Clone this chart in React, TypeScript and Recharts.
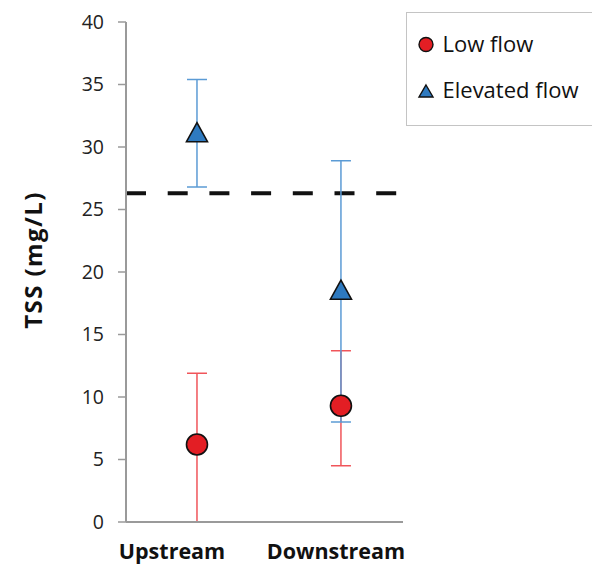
import {
  ScatterChart,
  Scatter,
  XAxis,
  YAxis,
  ErrorBar,
  ReferenceLine,
} from "recharts";

const sites = ["Upstream", "Downstream"];
const lowFlow = [6.2, 9.3];
const lowFlowMin = [0, 4.5];
const lowFlowMax = [11.9, 13.7];
const elevatedFlow = [31.0, 18.4];
const elevatedFlowMin = [26.8, 8.0];
const elevatedFlowMax = [35.4, 28.9];
const yTicks = [0, 5, 10, 15, 20, 25, 30, 35, 40];
const guideline = 26.3;

// label nudges so the category names sit where the original put them
const labelShift = [-25, -5];

const RED = "#e31e24";
const RED_BAR = "#f0555a";
const BLUE = "#2e7ac0";
const BLUE_BAR = "#5b9bd5";
const AXIS = "#9a9a9a";
const FONT = "'Open Sans', sans-serif";

const toPoints = (vals: number[], mins: number[], maxs: number[]) =>
  vals.map((v, i) => ({ x: i + 1, y: v, err: [v - mins[i], maxs[i] - v] }));

const lowData = toPoints(lowFlow, lowFlowMin, lowFlowMax);
const elevatedData = toPoints(elevatedFlow, elevatedFlowMin, elevatedFlowMax);

function Circle(props: any) {
  const { cx, cy } = props;
  return <circle cx={cx} cy={cy} r={10.5} fill={RED} stroke="#111" strokeWidth={1.6} />;
}

function Triangle(props: any) {
  const { cx, cy } = props;
  const h = 19;
  const w = 21;
  const pts = `${cx},${cy - h * 0.62} ${cx + w / 2},${cy + h * 0.38} ${cx - w / 2},${cy + h * 0.38}`;
  return <polygon points={pts} fill={BLUE} stroke="#111" strokeWidth={1.6} strokeLinejoin="miter" />;
}

function SiteTick(props: any) {
  const { x, y, payload } = props;
  const i = payload.value - 1;
  return (
    <text
      x={x + (labelShift[i] ?? 0)}
      y={y + 29}
      textAnchor="middle"
      fontFamily={FONT}
      fontWeight={700}
      fontSize={21.5}
      fill="#111"
    >
      {sites[i]}
    </text>
  );
}

function YTitle() {
  return (
    <text
      x={42}
      y={260}
      transform="rotate(-90 42 260)"
      textAnchor="middle"
      fontFamily={FONT}
      fontWeight={700}
      fontSize={24}
      letterSpacing={1.4}
      fill="#111"
    >
      TSS (mg/L)
    </text>
  );
}

function LegendBox() {
  return (
    <div
      style={{
        position: "absolute",
        top: 12,
        left: 406,
        border: "1px solid #c4c4c4",
        borderRight: "none",
        width: 186,
        height: 114,
        boxSizing: "border-box",
        background: "#fff",
      }}
    >
      <svg width={186} height={114} style={{ display: "block" }}>
        <circle cx={19} cy={31.5} r={7} fill={RED} stroke="#111" strokeWidth={1.4} />
        <text x={35.5} y={39} fontFamily={FONT} fontSize={22} fill="#111">
          Low flow
        </text>
        <polygon points="19,72 26,84 12,84" fill={BLUE} stroke="#111" strokeWidth={1.4} />
        <text x={35.5} y={84.5} fontFamily={FONT} fontSize={22} fill="#111">
          Elevated flow
        </text>
      </svg>
    </div>
  );
}

export default function App() {
  return (
    <div style={{ position: "relative", width: 592, height: 565, background: "#fff", overflow: "hidden" }}>
      <style>{`body{margin:0}`}</style>
      <ScatterChart width={592} height={565} margin={{ top: 22, right: 189, bottom: 0, left: 0 }}>
        <XAxis
          type="number"
          dataKey="x"
          domain={[0.507, 2.431]}
          ticks={[1, 2]}
          tick={<SiteTick />}
          tickLine={false}
          axisLine={{ stroke: AXIS, strokeWidth: 2 }}
          height={43}
          allowDataOverflow
        />
        <YAxis
          type="number"
          dataKey="y"
          domain={[0, 40]}
          ticks={yTicks}
          width={126}
          tickSize={8}
          tickMargin={14}
          tickLine={{ stroke: AXIS, strokeWidth: 1.5 }}
          axisLine={{ stroke: AXIS, strokeWidth: 2 }}
          tick={{ fontFamily: FONT, fontSize: 19.5, fill: "#222" }}
          label={<YTitle />}
        />
        <ReferenceLine
          y={guideline}
          stroke="#111"
          strokeWidth={4}
          strokeDasharray="20 21.7"
          ifOverflow="extendDomain"
        />
        <Scatter name="Low flow" data={lowData} shape={<Circle />} isAnimationActive={false}>
          <ErrorBar dataKey="err" direction="y" width={10} stroke={RED_BAR} strokeWidth={1.5} />
        </Scatter>
        <Scatter name="Elevated flow" data={elevatedData} shape={<Triangle />} isAnimationActive={false}>
          <ErrorBar dataKey="err" direction="y" width={10} stroke={BLUE_BAR} strokeWidth={1.5} />
        </Scatter>
      </ScatterChart>
      <LegendBox />
    </div>
  );
}
